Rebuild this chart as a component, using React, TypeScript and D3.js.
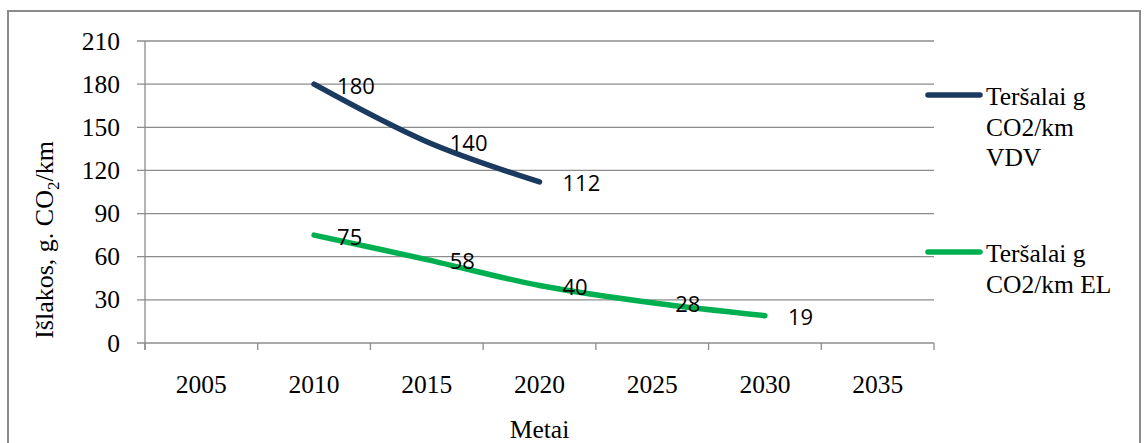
import React from "react";
import * as d3 from "d3";

// Categories on the x axis (years)
const years = ["2005", "2010", "2015", "2020", "2025", "2030", "2035"];

// Emissions, g CO2/km — internal combustion vehicles (VDV)
const vdvYears = ["2010", "2015", "2020"];
const vdvValues = [180, 140, 112];

// Emissions, g CO2/km — electric vehicles (EL)
const elYears = ["2010", "2015", "2020", "2025", "2030"];
const elValues = [75, 58, 40, 28, 19];

const yTicks = [0, 30, 60, 90, 120, 150, 180, 210];

const seriesNames = [
  ["Teršalai g", "CO2/km", "VDV"],
  ["Teršalai g", "CO2/km EL"],
];

const W = 1144;
const H = 443;
const plot = { left: 145, right: 934, top: 41, bottom: 343 };

const serif = "'Liberation Serif', 'Times New Roman', serif";
const sans = "'Open Sans', 'Noto Sans', sans-serif";
const gridColor = "#8c8c8c";
const navy = "#1b3a5f";
const green = "#00b050";

export default function App() {
  const x = d3
    .scaleBand<string>()
    .domain(years)
    .range([plot.left, plot.right])
    .paddingInner(0)
    .paddingOuter(0);
  const y = d3.scaleLinear().domain([0, 210]).range([plot.bottom, plot.top]);
  const cx = (yr: string) => (x(yr) as number) + x.bandwidth() / 2;

  const line = d3
    .line<[string, number]>()
    .x((d) => cx(d[0]))
    .y((d) => y(d[1]))
    .curve(d3.curveCatmullRom.alpha(0.5));

  const vdv: [string, number][] = vdvYears.map((yr, i) => [yr, vdvValues[i]]);
  const el: [string, number][] = elYears.map((yr, i) => [yr, elValues[i]]);

  const tickEdges = years.map((yr) => x(yr) as number).concat([plot.right]);

  return (
    <svg
      width={W}
      height={H}
      style={{ position: "absolute", left: 0, top: 0, background: "#fff" }}
    >
      {/* outer frame */}
      <rect x={8} y={11} width={1132} height={450} fill="#fff" stroke="#8a8a8a" strokeWidth={2} />

      {/* horizontal gridlines */}
      {yTicks.map((t) => (
        <line
          key={"g" + t}
          x1={plot.left - 8}
          x2={plot.right}
          y1={y(t)}
          y2={y(t)}
          stroke={gridColor}
          strokeWidth={1.3}
        />
      ))}

      {/* y axis line */}
      <line x1={plot.left} x2={plot.left} y1={plot.top} y2={plot.bottom + 7} stroke={gridColor} strokeWidth={1.3} />

      {/* x axis tick marks between categories */}
      {tickEdges.map((tx, i) => (
        <line key={"xt" + i} x1={tx} x2={tx} y1={plot.bottom} y2={plot.bottom + 7} stroke={gridColor} strokeWidth={1.3} />
      ))}

      {/* y tick labels */}
      {yTicks.map((t) => (
        <text key={"yl" + t} x={120} y={y(t) + 8.5} textAnchor="end" fontFamily={serif} fontSize={25.5} fill="#000">
          {t}
        </text>
      ))}

      {/* x tick labels */}
      {years.map((yr) => (
        <text key={"xl" + yr} x={cx(yr)} y={393} textAnchor="middle" fontFamily={serif} fontSize={25.5} fill="#000">
          {yr}
        </text>
      ))}

      {/* axis titles */}
      <text x={(plot.left + plot.right) / 2} y={438} textAnchor="middle" fontFamily={serif} fontSize={25.5} fill="#000">
        Metai
      </text>
      <text
        transform="translate(53,240) rotate(-90)"
        textAnchor="middle"
        fontFamily={serif}
        fontSize={26}
        fill="#000"
      >
        Išlakos, g. CO
        <tspan fontSize={17} dy={6}>2</tspan>
        <tspan dy={-6}>/km</tspan>
      </text>

      {/* series lines */}
      <path d={line(vdv) || ""} fill="none" stroke={navy} strokeWidth={5.5} strokeLinecap="round" />
      <path d={line(el) || ""} fill="none" stroke={green} strokeWidth={5.5} strokeLinecap="round" />

      {/* data labels */}
      {vdv.concat(el).map((d, i) => (
        <text key={"dl" + i} x={cx(d[0]) + 23} y={y(d[1]) + 9.5} fontFamily={sans} fontSize={22} fill="#000">
          {d[1]}
        </text>
      ))}

      {/* legend */}
      {seriesNames.map((lines, si) => {
        const ly = si === 0 ? 95 : 252;
        const color = si === 0 ? navy : green;
        return (
          <g key={"lg" + si}>
            <line x1={928} x2={980} y1={ly} y2={ly} stroke={color} strokeWidth={5.5} strokeLinecap="round" />
            {lines.map((s, li) => (
              <text key={li} x={986} y={ly + 10 + li * 30.5} fontFamily={serif} fontSize={25.5} fill="#000">
                {s}
              </text>
            ))}
          </g>
        );
      })}
    </svg>
  );
}
